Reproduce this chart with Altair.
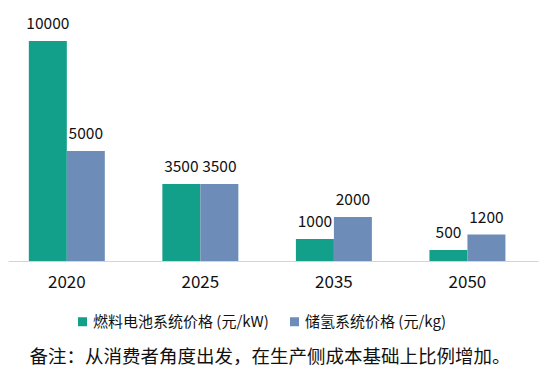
import altair as alt
import pandas as pd

years = ["2020", "2025", "2035", "2050"]
series = ["燃料电池系统价格 (元/kW)", "储氢系统价格 (元/kg)"]
fuel_cell = [10000, 3500, 1000, 500]
storage = [5000, 3500, 2000, 1200]
colors = ["#13a08b", "#6e8cb8"]
note = ["备注：从消费者角度出发，在生产侧成本基础上比例增加。"]

rows = []
for i, y in enumerate(years):
    rows.append({"year": y, "series": series[0], "value": fuel_cell[i]})
    rows.append({"year": y, "series": series[1], "value": storage[i]})
df = pd.DataFrame(rows)

FONT = "Noto Sans CJK SC"

x = alt.X("year:N", sort=years, title=None,
          scale=alt.Scale(paddingInner=0.431, paddingOuter=0.2, align=0.39),
          axis=alt.Axis(labelAngle=0, ticks=False, grid=False, labelFontSize=17,
                        labelFont=FONT, labelColor="#111111", labelPadding=13,
                        domainColor="#d4d4d4", domainWidth=1))
xo = alt.XOffset("series:N", sort=series, scale=alt.Scale(paddingInner=0, paddingOuter=0))
y = alt.Y("value:Q", scale=alt.Scale(domain=[0, 10000], nice=False), axis=None)

bars = alt.Chart(df).mark_bar().encode(
    x=x, xOffset=xo, y=y,
    color=alt.Color("series:N", sort=series,
                    scale=alt.Scale(domain=series, range=colors),
                    legend=alt.Legend(orient="none", legendX=67, legendY=273,
                                      direction="horizontal", title=None,
                                      symbolType="square", symbolSize=81,
                                      symbolStrokeWidth=0, labelFontSize=15,
                                      labelFont=FONT, labelColor="#111111",
                                      labelLimit=0, columnPadding=18, labelOffset=3)),
)

labels = alt.Chart(df).mark_text(baseline="middle", dy=-17, fontSize=15.5,
                                 font=FONT, color="#111111").encode(
    x=alt.X("year:N", sort=years), xOffset=alt.XOffset("series:N", sort=series), y=y,
    text=alt.Text("value:Q", format="d"),
)

note_df = pd.DataFrame({"t": note})
note_text = alt.Chart(note_df).mark_text(fontSize=18.5, font=FONT, color="#111111",
                                         align="center", baseline="middle").encode(
    x=alt.value(262), y=alt.value(316), text="t:N"
)

chart = alt.layer(bars, labels, note_text).properties(
    width=530, height=220,
    background="white",
    autosize=alt.AutoSizeParams(type="none"),
    padding={"left": 0, "top": 33, "right": 8, "bottom": 112},
).configure_view(stroke="transparent", strokeWidth=0)

chart.save("out.html", embed_options={"renderer": "svg", "actions": False})
